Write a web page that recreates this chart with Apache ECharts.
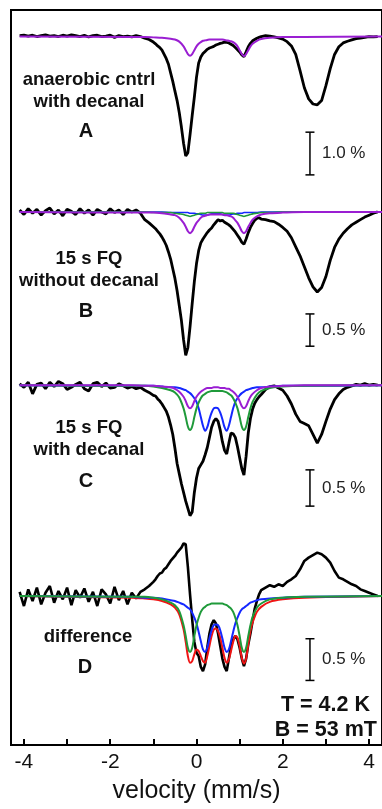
<!DOCTYPE html>
<html>
<head>
<meta charset="utf-8">
<script src="https://cdn.jsdelivr.net/npm/echarts@6/dist/echarts.min.js"></script>
<style>
  html, body { margin: 0; padding: 0; background: #fff; }
  #chart { width: 382px; height: 809px; }
</style>
</head>
<body>
<div id="chart"></div>
<script>
// velocity grid of the measured spectra (mm/s)
const VEL = [
  -4.1,-4.0,-3.9,-3.8,-3.7,-3.6,-3.5,-3.4,-3.3,-3.2,-3.1,-3.0,-2.9,-2.8,-2.7,-2.6,-2.5,-2.4,-2.3,-2.2,
  -2.1,-2.0,-1.9,-1.8,-1.7,-1.6,-1.5,-1.4,-1.3,-1.2,-1.1,-1.0,
  -0.95,-0.9,-0.85,-0.8,-0.75,-0.7,-0.65,-0.6,-0.55,-0.5,-0.45,-0.4,-0.35,-0.3,-0.25,-0.2,-0.15,-0.1,-0.05,0,
  0.05,0.1,0.15,0.2,0.25,0.3,0.35,0.4,0.45,0.5,0.55,0.6,0.65,0.7,0.75,0.8,0.85,0.9,0.95,1.0,
  1.05,1.1,1.15,1.2,1.25,1.3,1.35,1.4,1.45,1.5,
  1.6,1.7,1.8,1.9,2.0,2.1,2.2,2.3,2.4,2.5,2.6,2.7,2.8,2.9,3.0,3.1,3.2,3.3,3.4,3.5,
  3.6,3.7,3.8,3.9,4.0,4.1,4.2
];

// absorption (%) relative to each baseline
const SPEC_A = [
  0.02,0.03,0.01,0.03,0.00,0.02,0.04,0.01,0.02,0.00,0.03,0.01,0.04,0.02,0.00,0.03,-0.01,0.02,0.03,0.00,
  0.01,0.03,-0.02,0.02,0.00,0.01,-0.01,0.02,0.00,-0.04,-0.07,-0.13,
  -0.17,-0.22,-0.26,-0.32,-0.42,-0.52,-0.65,-0.85,-1.05,-1.28,-1.5,-1.78,-2.12,-2.5,-2.8,-2.72,-2.3,-1.85,-1.42,-0.95,
  -0.62,-0.48,-0.4,-0.35,-0.3,-0.27,-0.25,-0.23,-0.2,-0.18,-0.16,-0.15,-0.13,-0.14,-0.15,-0.18,-0.21,-0.26,-0.31,-0.36,
  -0.43,-0.47,-0.36,-0.24,-0.16,-0.1,-0.07,-0.04,-0.02,0.0,
  0.02,0.01,-0.01,-0.03,-0.06,-0.12,-0.22,-0.42,-0.8,-1.2,-1.46,-1.58,-1.6,-1.5,-1.15,-0.75,-0.42,-0.24,-0.15,-0.11,
  -0.08,-0.05,-0.04,-0.02,0.0,-0.01,0.0
];
const SPEC_B = [
  0.03,-0.04,0.05,-0.02,0.04,-0.05,0.02,0.06,-0.03,0.03,-0.06,0.04,0.01,-0.04,0.05,-0.02,0.03,-0.05,0.04,0.00,
  -0.03,0.05,-0.01,0.03,-0.04,0.04,0.00,0.03,-0.02,-0.12,-0.17,-0.23,
  -0.26,-0.3,-0.34,-0.39,-0.45,-0.52,-0.62,-0.73,-0.88,-1.03,-1.22,-1.45,-1.68,-1.98,-2.22,-2.1,-1.78,-1.42,-1.08,-0.8,
  -0.6,-0.48,-0.42,-0.37,-0.32,-0.28,-0.25,-0.2,-0.16,-0.12,-0.14,-0.13,-0.16,-0.18,-0.2,-0.23,-0.27,-0.31,-0.36,-0.41,
  -0.47,-0.5,-0.42,-0.32,-0.24,-0.18,-0.13,-0.1,-0.09,-0.11,
  -0.12,-0.14,-0.15,-0.19,-0.24,-0.3,-0.4,-0.54,-0.68,-0.85,-1.02,-1.16,-1.24,-1.17,-1.0,-0.75,-0.55,-0.42,-0.33,-0.26,
  -0.2,-0.16,-0.12,-0.08,-0.05,-0.02,0.0
];
const SPEC_C = [
  0.02,-0.03,0.04,-0.12,0.01,0.03,-0.05,0.04,-0.02,0.05,0.02,-0.06,-0.03,0.01,0.04,-0.05,-0.08,0.02,0.04,-0.02,
  0.03,-0.04,-0.03,0.02,-0.01,-0.04,-0.02,-0.05,-0.03,-0.07,-0.1,-0.14,
  -0.15,-0.19,-0.22,-0.26,-0.31,-0.36,-0.44,-0.55,-0.68,-0.87,-1.08,-1.22,-1.36,-1.48,-1.6,-1.7,-1.8,-1.75,-1.48,-1.28,
  -1.15,-1.1,-1.05,-0.96,-0.86,-0.72,-0.58,-0.5,-0.46,-0.5,-0.62,-0.78,-0.9,-0.95,-0.8,-0.66,-0.67,-0.72,-0.85,-1.0,
  -1.15,-1.24,-0.98,-0.66,-0.46,-0.33,-0.25,-0.2,-0.16,-0.13,
  -0.06,-0.02,-0.01,-0.04,-0.07,-0.15,-0.26,-0.4,-0.5,-0.53,-0.56,-0.68,-0.8,-0.68,-0.5,-0.33,-0.2,-0.12,-0.06,-0.03,
  -0.01,0.01,0.0,0.02,0.0,0.01,0.0
];
const SPEC_D = [
  0.05,-0.12,0.08,-0.06,0.1,-0.1,0.04,0.12,-0.08,0.06,-0.04,0.1,-0.11,0.07,-0.02,0.09,-0.07,0.05,-0.12,0.08,
  0.02,-0.09,0.11,-0.05,0.06,-0.1,0.04,-0.03,0.05,0.08,0.12,0.17,
  0.2,0.24,0.27,0.28,0.32,0.34,0.38,0.42,0.45,0.48,0.52,0.55,0.58,0.63,0.62,0.35,0.02,-0.28,-0.55,-0.68,
  -0.72,-0.85,-0.9,-0.82,-0.62,-0.45,-0.34,-0.29,-0.33,-0.45,-0.6,-0.75,-0.85,-0.9,-0.75,-0.6,-0.52,-0.48,-0.52,-0.62,
  -0.75,-0.84,-0.75,-0.58,-0.45,-0.3,-0.15,-0.06,0.02,0.07,
  0.1,0.13,0.11,0.14,0.12,0.17,0.2,0.24,0.32,0.42,0.46,0.49,0.52,0.5,0.46,0.4,0.3,0.22,0.2,0.17,
  0.14,0.12,0.08,0.06,0.04,0.02,0.0
];

// velocity grid of the fitted components
const FIT_V = [
  -4.1,-1.5,-1.2,-1.0,-0.8,-0.6,-0.5,-0.4,-0.3,
  -0.25,-0.2,-0.15,-0.1,-0.05,0,0.05,0.1,0.15,0.2,
  0.25,0.3,0.35,0.4,0.45,0.5,0.55,0.6,0.65,0.7,
  0.75,0.8,0.85,0.9,0.95,1.0,1.05,1.1,1.15,1.2,
  1.25,1.3,
  1.4,1.5,1.7,2.0,2.5,4.3
];
const FIT_A_PURPLE = [
  0,-0.01,-0.01,-0.02,-0.03,-0.05,-0.07,-0.12,-0.23,
  -0.32,-0.41,-0.45,-0.41,-0.32,-0.23,-0.17,-0.13,-0.1,-0.09,
  -0.08,-0.07,-0.07,-0.07,-0.07,-0.07,-0.07,-0.07,-0.08,-0.09,
  -0.1,-0.11,-0.13,-0.17,-0.23,-0.32,-0.41,-0.46,-0.41,-0.32,
  -0.23,-0.17,
  -0.1,-0.06,-0.03,-0.01,-0.01,0
];
const FIT_B_PURPLE = [
  0,-0.01,-0.01,-0.01,-0.02,-0.04,-0.05,-0.09,-0.17,
  -0.23,-0.3,-0.33,-0.3,-0.23,-0.17,-0.13,-0.09,-0.07,-0.06,
  -0.05,-0.04,-0.04,-0.04,-0.04,-0.04,-0.04,-0.04,-0.05,-0.05,
  -0.06,-0.07,-0.09,-0.13,-0.17,-0.23,-0.3,-0.33,-0.3,-0.23,
  -0.17,-0.12,
  -0.07,-0.04,-0.02,-0.01,0,0
];
const FIT_B_GREEN = [
  0,0,0,-0.01,-0.01,-0.01,-0.02,-0.03,-0.04,
  -0.05,-0.06,-0.07,-0.06,-0.05,-0.04,-0.03,-0.02,-0.02,-0.02,
  -0.01,-0.01,-0.01,-0.01,-0.01,-0.01,-0.01,-0.01,-0.02,-0.02,
  -0.02,-0.02,-0.02,-0.03,-0.04,-0.05,-0.06,-0.07,-0.06,-0.05,
  -0.04,-0.03,
  -0.02,-0.01,-0.01,0,0,0
];
const FIT_B_BLUE = [
  0,0,0,0,0,-0.01,-0.01,-0.01,-0.01,
  -0.01,-0.01,-0.02,-0.02,-0.02,-0.03,-0.03,-0.04,-0.05,-0.05,
  -0.05,-0.04,-0.03,-0.03,-0.03,-0.03,-0.03,-0.04,-0.05,-0.05,
  -0.05,-0.04,-0.03,-0.03,-0.02,-0.02,-0.02,-0.01,-0.01,-0.01,
  -0.01,-0.01,
  -0.01,0,0,0,0,0
];
const FIT_C_PURPLE = [
  0,0,-0.01,-0.01,-0.02,-0.03,-0.05,-0.09,-0.16,
  -0.22,-0.29,-0.32,-0.29,-0.22,-0.16,-0.12,-0.09,-0.07,-0.05,
  -0.04,-0.04,-0.04,-0.03,-0.03,-0.03,-0.04,-0.04,-0.04,-0.05,
  -0.05,-0.07,-0.09,-0.12,-0.16,-0.22,-0.29,-0.32,-0.29,-0.22,
  -0.16,-0.12,
  -0.07,-0.04,-0.02,-0.01,0,0
];
const FIT_C_GREEN = [
  0,-0.01,-0.01,-0.02,-0.04,-0.07,-0.1,-0.17,-0.32,
  -0.44,-0.57,-0.62,-0.57,-0.44,-0.32,-0.24,-0.18,-0.14,-0.12,
  -0.1,-0.09,-0.08,-0.08,-0.08,-0.08,-0.08,-0.08,-0.09,-0.1,
  -0.12,-0.14,-0.18,-0.24,-0.32,-0.44,-0.57,-0.62,-0.57,-0.44,
  -0.32,-0.23,
  -0.13,-0.08,-0.04,-0.02,-0.01,0
];
const FIT_C_BLUE = [
  0,-0.01,-0.01,-0.01,-0.02,-0.03,-0.03,-0.04,-0.06,
  -0.07,-0.09,-0.11,-0.14,-0.18,-0.23,-0.32,-0.44,-0.56,-0.63,
  -0.58,-0.47,-0.38,-0.32,-0.31,-0.32,-0.38,-0.47,-0.58,-0.63,
  -0.56,-0.44,-0.32,-0.23,-0.18,-0.14,-0.11,-0.09,-0.07,-0.06,
  -0.05,-0.04,
  -0.03,-0.03,-0.02,-0.01,-0.01,0
];
const FIT_D_GREEN = [
  0,-0.01,-0.01,-0.02,-0.04,-0.08,-0.11,-0.18,-0.35,
  -0.48,-0.62,-0.67,-0.62,-0.48,-0.35,-0.26,-0.19,-0.15,-0.13,
  -0.11,-0.1,-0.09,-0.09,-0.09,-0.09,-0.09,-0.09,-0.1,-0.11,
  -0.13,-0.15,-0.19,-0.26,-0.35,-0.48,-0.62,-0.67,-0.62,-0.48,
  -0.35,-0.25,
  -0.14,-0.09,-0.04,-0.02,-0.01,0
];
const FIT_D_BLUE = [
  0,-0.01,-0.02,-0.02,-0.03,-0.05,-0.06,-0.08,-0.1,
  -0.12,-0.14,-0.16,-0.2,-0.26,-0.33,-0.43,-0.54,-0.64,-0.67,
  -0.62,-0.51,-0.41,-0.35,-0.34,-0.35,-0.41,-0.51,-0.62,-0.67,
  -0.64,-0.54,-0.43,-0.33,-0.26,-0.2,-0.16,-0.14,-0.12,-0.1,
  -0.08,-0.07,
  -0.05,-0.04,-0.03,-0.02,-0.01,0
];
const FIT_D_RED = [
  0,-0.02,-0.03,-0.04,-0.06,-0.1,-0.14,-0.22,-0.4,
  -0.55,-0.72,-0.8,-0.78,-0.7,-0.64,-0.66,-0.72,-0.78,-0.8,
  -0.72,-0.6,-0.48,-0.4,-0.39,-0.42,-0.5,-0.62,-0.74,-0.8,
  -0.76,-0.66,-0.55,-0.48,-0.5,-0.6,-0.74,-0.81,-0.75,-0.58,
  -0.42,-0.32,
  -0.19,-0.13,-0.07,-0.04,-0.02,0
];

const X_TICKS = [-4, -3, -2, -1, 0, 1, 2, 3, 4];
const X_LABELS = [-4, -2, 0, 2, 4];
const SCALE_BAR_PCT = [1.0, 0.5, 0.5, 0.5];
const SCALE_BAR_TEXT = ['1.0 %', '0.5 %', '0.5 %', '0.5 %'];

// layout: baseline pixel and pixels per percent for each stacked panel
const PLOT_TOP = 10, PLOT_BOTTOM = 750;
const PANELS = [
  { base: 36.7, pxPerPct: 43, barTop: 133 },
  { base: 213.3, pxPerPct: 65, barTop: 316 },
  { base: 387.7, pxPerPct: 73, barTop: 473 },
  { base: 600, pxPerPct: 84, barTop: 643 }
];
const BAR_X = 2.63;

const COLORS = { data: '#000', purple: '#9a1ed2', green: '#1f9a3a', blue: '#1428ff', red: '#f01414' };
const FONT = '"Liberation Sans", Arial, Helvetica, sans-serif';

const chart = echarts.init(document.getElementById('chart'), null, { renderer: 'canvas' });

const zip = (xs, ys) => xs.map((x, i) => [x, ys[i]]);

const yAxes = PANELS.map((p) => ({
  type: 'value',
  gridIndex: 0,
  show: false,
  min: (p.base - PLOT_BOTTOM) / p.pxPerPct,
  max: (p.base - PLOT_TOP) / p.pxPerPct
}));

const lineSeries = (xs, ys, yIdx, color, width, smooth) => ({
  type: 'line',
  yAxisIndex: yIdx,
  data: zip(xs, ys),
  showSymbol: false,
  symbol: 'none',
  smooth: smooth,
  lineStyle: { color: color, width: width },
  silent: true
});

const series = [
  lineSeries(VEL, SPEC_A, 0, COLORS.data, 2.8, false),
  lineSeries(FIT_V, FIT_A_PURPLE, 0, COLORS.purple, 2, 0.3),

  lineSeries(VEL, SPEC_B, 1, COLORS.data, 2.8, false),
  lineSeries(FIT_V, FIT_B_BLUE, 1, COLORS.blue, 1.6, 0.3),
  lineSeries(FIT_V, FIT_B_GREEN, 1, COLORS.green, 1.6, 0.3),
  lineSeries(FIT_V, FIT_B_PURPLE, 1, COLORS.purple, 2, 0.3),

  lineSeries(VEL, SPEC_C, 2, COLORS.data, 2.8, false),
  lineSeries(FIT_V, FIT_C_BLUE, 2, COLORS.blue, 2, 0.3),
  lineSeries(FIT_V, FIT_C_GREEN, 2, COLORS.green, 2, 0.3),
  lineSeries(FIT_V, FIT_C_PURPLE, 2, COLORS.purple, 2, 0.3),

  lineSeries(VEL, SPEC_D, 3, COLORS.data, 2.6, false),
  lineSeries(FIT_V, FIT_D_RED, 3, COLORS.red, 2, 0.3),
  lineSeries(FIT_V, FIT_D_BLUE, 3, COLORS.blue, 2, 0.3),
  lineSeries(FIT_V, FIT_D_GREEN, 3, COLORS.green, 2, 0.3)
];

// scale bars (I-shaped) drawn in each panel's own units
PANELS.forEach((p, i) => {
  const top = (p.base - p.barTop) / p.pxPerPct;
  series.push({
    type: 'custom',
    yAxisIndex: i,
    silent: true,
    data: [[BAR_X, top, top - SCALE_BAR_PCT[i]]],
    renderItem: (params, api) => {
      const a = api.coord([api.value(0), api.value(1)]);
      const b = api.coord([api.value(0), api.value(2)]);
      const style = { stroke: '#000', lineWidth: 1.5 };
      return {
        type: 'group',
        children: [
          { type: 'line', shape: { x1: a[0], y1: a[1], x2: b[0], y2: b[1] }, style },
          { type: 'line', shape: { x1: a[0] - 4.5, y1: a[1], x2: a[0] + 4.5, y2: a[1] }, style },
          { type: 'line', shape: { x1: b[0] - 4.5, y1: b[1], x2: b[0] + 4.5, y2: b[1] }, style },
          {
            type: 'text',
            x: a[0] + 12, y: (a[1] + b[1]) / 2,
            style: { text: SCALE_BAR_TEXT[i], font: '17px ' + FONT, fill: '#222', verticalAlign: 'middle' }
          }
        ]
      };
    }
  });
});

const label = (text, x, y, size, align) => ({
  type: 'text',
  x: x, y: y,
  silent: true,
  style: {
    text: text,
    font: 'bold ' + size + 'px ' + FONT,
    fill: '#111',
    align: align || 'center',
    verticalAlign: 'middle',
    lineHeight: 22
  }
});

const option = {
  animation: false,
  backgroundColor: '#fff',
  grid: {
    left: 11, right: -4, top: PLOT_TOP, bottom: 809 - PLOT_BOTTOM,
    show: true, borderColor: '#000', borderWidth: 2, backgroundColor: 'transparent'
  },
  xAxis: {
    type: 'value',
    min: -4.3, max: 4.3,
    name: 'velocity (mm/s)',
    nameLocation: 'middle',
    nameGap: 34,
    nameTextStyle: { fontFamily: FONT, fontSize: 25, color: '#111' },
    axisLine: { show: true, onZero: false, lineStyle: { color: '#000', width: 2 } },
    axisTick: { show: true, inside: true, length: 6, customValues: X_TICKS, lineStyle: { color: '#000', width: 2 } },
    axisLabel: { customValues: X_LABELS, fontFamily: FONT, fontSize: 21, color: '#111', margin: 7 },
    splitLine: { show: false }
  },
  yAxis: yAxes,
  series: series,
  graphic: [
    label('anaerobic cntrl\nwith decanal', 89, 91, 18.5),
    label('A', 86, 131, 20),
    label('15 s FQ\nwithout decanal', 89, 270, 18.5),
    label('B', 86, 311, 20),
    label('15 s FQ\nwith decanal', 89, 439, 18.5),
    label('C', 86, 481, 20),
    label('difference', 88, 637, 18.5),
    label('D', 85, 667, 20),
    label('T = 4.2 K', 370, 705, 21.5, 'right'),
    label('B = 53 mT', 377, 730, 21.5, 'right')
  ]
};

chart.setOption(option);
</script>
</body>
</html>
